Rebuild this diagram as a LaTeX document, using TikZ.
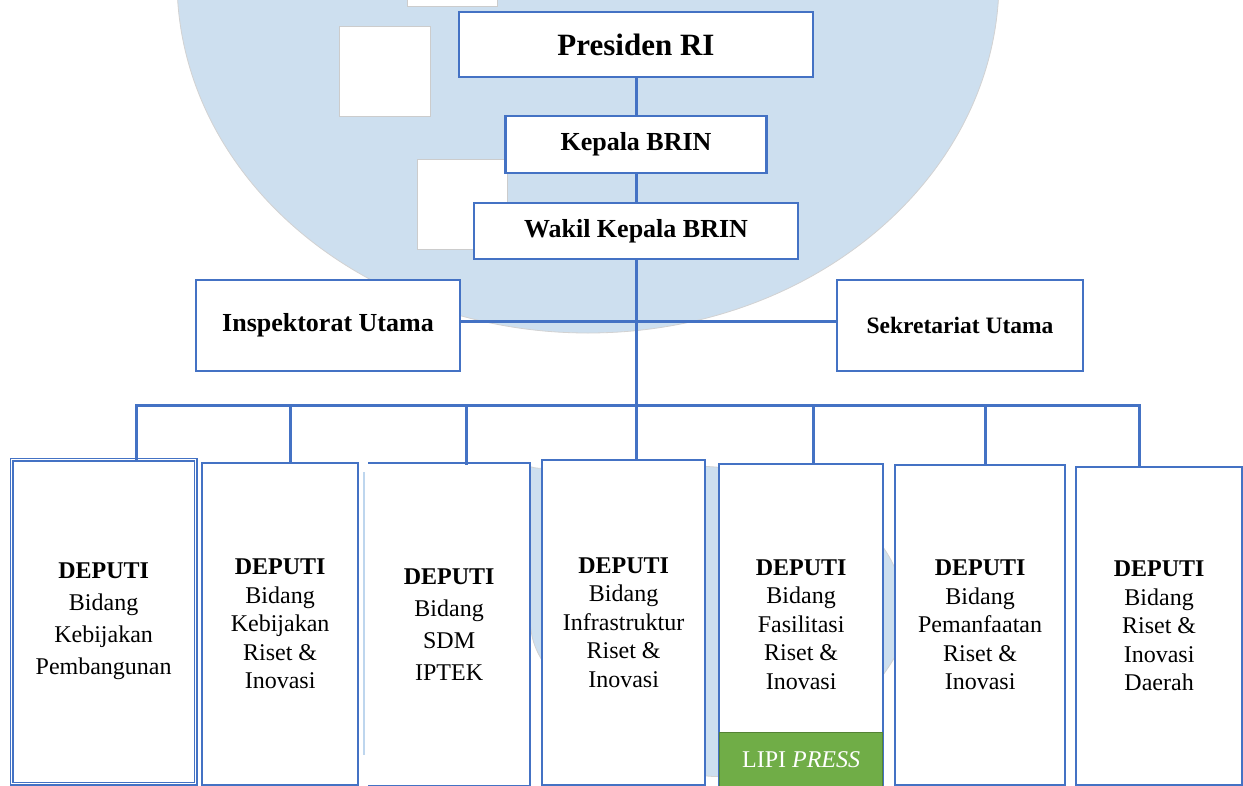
\documentclass[tikz,border=0pt]{standalone}
\usepackage{fontspec}
\setmainfont{Liberation Serif}
\definecolor{brinblue}{RGB}{68,114,196}
\definecolor{wmblue}{RGB}{205,223,239}
\definecolor{wmline}{RGB}{190,214,238}
\definecolor{lipigreen}{RGB}{112,173,71}

\begin{document}
\begin{tikzpicture}[x=1pt, y=-1pt,
  orgbox/.style={draw=brinblue, line width=2.2pt, fill=white, inner sep=0pt, align=center},
  topbox/.style={orgbox, font=\bfseries\fontsize{26}{30}\selectfont},
  deputybox/.style={orgbox, anchor=north west, font=\fontsize{24}{28.5}\selectfont},
  link/.style={draw=brinblue, line width=3pt, line cap=rect},
  wmshape/.style={fill=wmblue, draw=gray!35, line width=0.8pt},
  wmsquare/.style={fill=white, draw=gray!40, line width=1pt}]
\useasboundingbox (0,0) rectangle (1243,785);
\clip (0,0) rectangle (1243,785);
\fill[white] (0,0) rectangle (1243,785);

% watermark
\filldraw[wmshape] (588,-20) ellipse [x radius=411, y radius=353];
\filldraw[wmsquare] (407,-5) rectangle (497,6);
\filldraw[wmsquare] (339,26) rectangle (430,116);
\filldraw[wmsquare] (417,159) rectangle (507,249);
\filldraw[wmshape] plot[smooth cycle, tension=0.6] coordinates {(527,480) (545,468) (640,466) (740,470)
  (830,500) (885,550) (905,610) (893,660) (840,720) (760,765) (700,775) (620,740) (545,665) (528,600)};

% top levels
\node[topbox, font=\bfseries\fontsize{31}{36}\selectfont, minimum width=354, minimum height=65] (pres) at (636,44.5) {Presiden RI};
\node[topbox, minimum width=261, minimum height=57] (kepala) at (636,144.5) {Kepala BRIN};
\node[topbox, minimum width=324, minimum height=56] (wakil) at (636,231) {Wakil Kepala BRIN};
\node[topbox, minimum width=264, minimum height=91] (insp) at (328,325.5) {Inspektorat Utama};
\node[topbox, font=\bfseries\fontsize{23.5}{28}\selectfont, minimum width=246, minimum height=91] (sek) at (960,325.5) {Sekretariat Utama};

% deputies
\node[deputybox, double=white, double distance=1.4pt, line width=1.3pt, font=\fontsize{24}{32}\selectfont,
  minimum width=184, minimum height=324] (d1) at (11,459) {\textbf{DEPUTI}\\Bidang\\Kebijakan\\Pembangunan};
\node[deputybox, minimum width=156, minimum height=322] (d2) at (201,462) {\textbf{DEPUTI}\\Bidang\\Kebijakan\\Riset \&\\Inovasi};
\node[deputybox, draw=none, font=\fontsize{24}{32}\selectfont,
  minimum width=160, minimum height=321] (d3) at (368,463) {\textbf{DEPUTI}\\Bidang\\SDM\\IPTEK};
\node[deputybox, minimum width=163, minimum height=325] (d4) at (541,459) {\textbf{DEPUTI}\\Bidang\\Infrastruktur\\Riset \&\\Inovasi};
\node[deputybox, minimum width=164, minimum height=321] (d5) at (718,463) {\textbf{DEPUTI}\\Bidang\\Fasilitasi\\Riset \&\\Inovasi};
\node[deputybox, minimum width=170, minimum height=320] (d6) at (894,464) {\textbf{DEPUTI}\\Bidang\\Pemanfaatan\\Riset \&\\Inovasi};
\node[deputybox, minimum width=166, minimum height=318] (d7) at (1075,466) {\textbf{DEPUTI}\\Bidang\\Riset \&\\Inovasi\\Daerah};
\draw[brinblue, line width=2.2pt] (d3.north west) -- (d3.north east) -- (d3.south east) -- (d3.south west);
\draw[wmline, line width=2pt] ([xshift=-4]d3.north west |- 0,472) -- ([xshift=-4]d3.north west |- 0,755);
\node[fill=lipigreen, draw=lipigreen!75!black, line width=0.8pt, anchor=south, text=white, inner sep=0pt,
  minimum width=163, minimum height=54, font=\fontsize{24}{28}\selectfont] (lipi) at ([yshift=-1]d5.south) {LIPI \textit{PRESS}};

% connectors
\coordinate (bus) at (636,405);
\coordinate (busW) at (136,405);
\coordinate (busE) at (1139,405);
\draw[link] (pres) -- (kepala);
\draw[link] (kepala) -- (wakil);
\draw[link] (wakil.south) -- (bus);
\draw[link] ([yshift=4]insp.east) -- ([yshift=4]sek.west);
\draw[link] (busW) -- (busE);
\foreach \n/\x in {d1/136,d2/290,d3/466,d4/636,d5/813,d6/985,d7/1139}
  \draw[link] (\x,405) -- (\x,405 |- \n.north);
\end{tikzpicture}
\end{document}
